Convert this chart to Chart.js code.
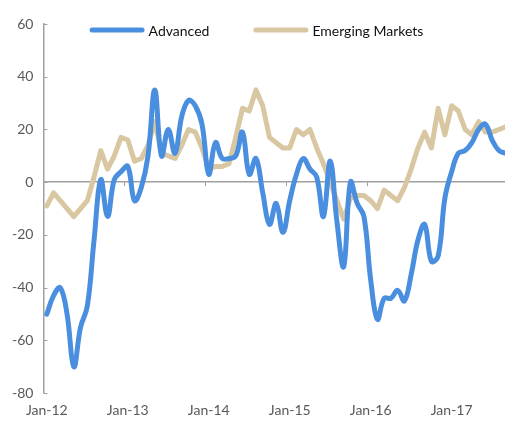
<!DOCTYPE html>
<html>
<head>
<meta charset="utf-8">
<title>Advanced vs Emerging Markets</title>
<script src="https://cdn.jsdelivr.net/npm/chart.js@4.4.1/dist/chart.umd.min.js"></script>
<style>
    html, body { margin: 0; padding: 0; background: #fff; overflow: hidden; }
    #wrap { width: 509px; height: 428px; }
</style>
</head>
<body>
<div id="wrap"><canvas id="myChart"></canvas></div>
<script>
    // months Jan-12 .. Sep-17
    var years = ['12', '13', '14', '15', '16', '17'];
    var monthNames = ['Jan', 'Feb', 'Mar', 'Apr', 'May', 'Jun', 'Jul', 'Aug', 'Sep', 'Oct', 'Nov', 'Dec'];
    var months = [];
    years.forEach(function (y) {
        monthNames.forEach(function (m) {
            if (months.length < 69) months.push(m + '-' + y);
        });
    });

    var advanced = [
        -50, -43, -40, -50, -70, -55, -47, -22, 1, -13, 1, 4,
        6, -7, -2, 10, 35, 10, 20, 11, 25, 31, 29, 22,
        3, 15, 9, 9, 10, 19, 3, 9, -4, -16, -8, -19,
        -7, 3, 9, 5, 2, -13, 8, -15, -32, 0, -8, -13,
        -37, -52, -44, -44, -41, -45, -35, -22, -16, -30, -28, -6,
        4, 11, 12, 15, 20, 22, 16, 12, 11
    ];
    var emerging = [
        -9, -4, -7, -10, -13, -10, -7, 2, 12, 5, 10, 17,
        16, 8, 9, 14, 23, 11, 10, 9, 14, 20, 19, 13,
        5, 6, 6, 7, 17, 28, 27, 35, 29, 17, 15, 13,
        13, 20, 18, 20, 13, 7, 0, -7, -14, -6, -5, -5,
        -7, -10, -3, -5, -7, -2, 5, 13, 19, 13, 28, 18,
        29, 27, 20, 18, 23, 19, 19, 20, 21
    ];
    var yMin = -80, yMax = 60, yStep = 20;

    var axisGrey = '#a0a0a0';
    var textGrey = '#595959';
    var font = 'Lato';

    // small inside ticks on the y axis and yearly ticks on the zero line
    var axisTicks = {
        id: 'axisTicks',
        beforeDatasetsDraw: function (chart) {
            var c = chart.ctx, xs = chart.scales.x, ys = chart.scales.y;
            var left = chart.chartArea.left;
            var y0 = ys.getPixelForValue(0);
            c.save();
            c.strokeStyle = axisGrey;
            c.lineWidth = 1;
            ys.ticks.forEach(function (t) {
                var py = Math.round(ys.getPixelForValue(t.value)) + 0.5;
                c.beginPath();
                c.moveTo(left, py);
                c.lineTo(left + 4, py);
                c.stroke();
            });
            var half = (xs.getPixelForValue(1) - xs.getPixelForValue(0)) / 2;
            months.forEach(function (m, i) {
                if (i > 0 && m.indexOf('Jan') === 0) {
                    var px = Math.round(xs.getPixelForValue(i) - half) + 0.5;
                    c.beginPath();
                    c.moveTo(px, y0);
                    c.lineTo(px, y0 + 4);
                    c.stroke();
                }
            });
            c.restore();
        }
    };

    // legend floating inside the plot, one row
    var legendRow = {
        id: 'legendRow',
        afterDraw: function (chart) {
            var c = chart.ctx;
            var ds = chart.data.datasets;
            var lineW = 55, gapText = 4, gapItem = 44, y = 30;
            c.save();
            c.font = '14px ' + font;
            var widths = ds.map(function (d) { return lineW + gapText + c.measureText(d.label).width; });
            var total = widths.reduce(function (a, b) { return a + b; }, 0) + gapItem * (ds.length - 1);
            var x = chart.width / 2 + 2 - total / 2;
            ds.forEach(function (d, i) {
                c.strokeStyle = d.borderColor;
                c.lineWidth = 5;
                c.lineCap = 'round';
                c.beginPath();
                c.moveTo(x + 2.5, y);
                c.lineTo(x + lineW - 2.5, y);
                c.stroke();
                c.fillStyle = '#111';
                c.textBaseline = 'middle';
                c.textAlign = 'left';
                c.fillText(d.label, x + lineW + gapText, y + 1);
                x += widths[i] + gapItem;
            });
            c.restore();
        }
    };

    var ctx = document.getElementById('myChart').getContext('2d');
    var myChart = new Chart(ctx, {
        type: 'line',
        data: {
            labels: months,
            datasets: [
                {
                    label: 'Advanced',
                    data: advanced,
                    borderColor: '#4a8fdf',
                    backgroundColor: '#4a8fdf',
                    borderWidth: 5,
                    pointRadius: 0,
                    tension: 0.4,
                    borderCapStyle: 'round',
                    borderJoinStyle: 'round'
                },
                {
                    label: 'Emerging Markets',
                    data: emerging,
                    borderColor: '#d9c7a2',
                    backgroundColor: '#d9c7a2',
                    borderWidth: 5,
                    pointRadius: 0,
                    tension: 0,
                    borderCapStyle: 'round',
                    borderJoinStyle: 'round'
                }
            ]
        },
        options: {
            responsive: true,
            maintainAspectRatio: false,
            animation: false,
            layout: { padding: { top: 24, left: 2, right: 0, bottom: 0 } },
            plugins: {
                tooltip: { enabled: false },
                legend: { display: false }
            },
            scales: {
                x: {
                    offset: true,
                    grid: { display: false, drawTicks: false },
                    border: { display: false },
                    ticks: {
                        autoSkip: false,
                        maxRotation: 0,
                        padding: 9,
                        color: textGrey,
                        font: { family: font, size: 14 },
                        callback: function (value) {
                            var lab = this.getLabelForValue(value);
                            return lab.indexOf('Jan') === 0 ? lab : null;
                        }
                    }
                },
                y: {
                    min: yMin,
                    max: yMax,
                    ticks: {
                        stepSize: yStep,
                        padding: 10,
                        color: textGrey,
                        font: { family: font, size: 14 }
                    },
                    grid: {
                        drawTicks: false,
                        lineWidth: 1.5,
                        color: function (c) {
                            return c.tick && c.tick.value === 0 ? axisGrey : 'rgba(0,0,0,0)';
                        }
                    },
                    border: { display: true, color: axisGrey, width: 1.5 }
                }
            }
        },
        plugins: [axisTicks, legendRow]
    });
</script>
</body>
</html>
